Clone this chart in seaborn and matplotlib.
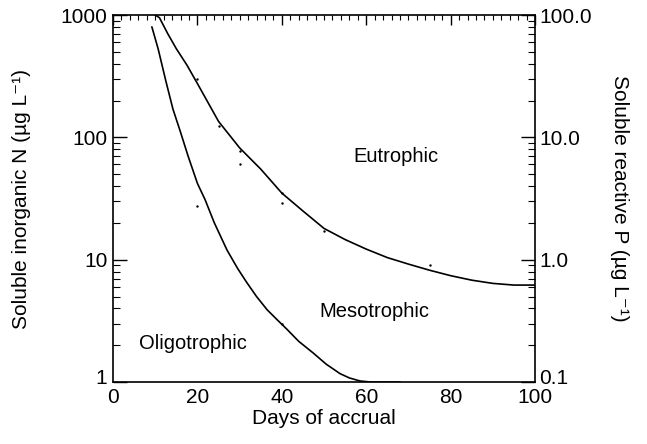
import matplotlib
matplotlib.use("Agg")
import matplotlib.pyplot as plt
import matplotlib.transforms as mtransforms
import seaborn as sns
import pandas as pd
import numpy as np
from matplotlib.ticker import LogLocator, NullFormatter, MultipleLocator

sns.set_theme(style="white")
plt.rcParams['font.family'] = ['Liberation Sans', 'DejaVu Sans']

# Eutrophic / mesotrophic boundary
eu_days = [10, 11, 13, 15, 17.5, 20, 25, 30, 35, 40, 45, 50, 55, 60, 65, 70, 75, 80, 85, 90, 95, 100]
eu_n = [1000, 950, 700, 530, 390, 275, 135, 82, 55, 35, 25, 18, 14.6, 12.2, 10.4, 9.2, 8.2, 7.4, 6.8, 6.4, 6.2, 6.2]

# Mesotrophic / oligotrophic boundary
oli_days = [9.2, 10.7, 12.5, 14.2, 16, 17.8, 20, 21.8, 24, 27, 29.5, 31.7, 34, 36.5, 39, 41.2, 44, 47.4, 50.5, 53.8, 56, 58.5, 61, 64, 68]
oli_n = [800, 527, 290, 170, 110, 70, 42, 31, 20, 12, 8.5, 6.5, 5.0, 3.9, 3.2, 2.7, 2.15, 1.73, 1.4, 1.17, 1.08, 1.02, 1.0, 1.0, 1.0]

# scattered observation dots
pt_days = [20, 20, 25, 30, 30, 40, 40, 40, 50, 75]
pt_n = [298, 27.6, 123, 77, 61, 35, 29, 3.0, 17, 9.1]

region_labels = ["Eutrophic", "Mesotrophic", "Oligotrophic"]
left_ticks = [1, 10, 100, 1000]
left_ticklabels = ["1", "10", "100", "1000"]
right_ticks = [0.1, 1, 10, 100]
right_ticklabels = ["0.1", "1.0", "10.0", "100.0"]
x_ticks = [0, 20, 40, 60, 80, 100]

FS = 15

fig = plt.figure(figsize=(6.47, 4.44), dpi=100)
ax = fig.add_axes([0.1747, 0.1396, 0.6523, 0.8266])

df_eu = pd.DataFrame({"days": eu_days, "n": eu_n})
df_ol = pd.DataFrame({"days": oli_days, "n": oli_n})
df_pt = pd.DataFrame({"days": pt_days, "n": pt_n})

sns.lineplot(data=df_eu, x="days", y="n", ax=ax, color="black", linewidth=1.2, sort=True)
sns.lineplot(data=df_ol, x="days", y="n", ax=ax, color="black", linewidth=1.2, sort=True)
sns.scatterplot(data=df_pt, x="days", y="n", ax=ax, color="black", s=3, linewidth=0)

ax.set_yscale("log")
ax.set_xlim(0, 100)
ax.set_ylim(1, 1000)
ax.set_xticks(x_ticks)
ax.set_xticklabels([str(t) for t in x_ticks])
ax.xaxis.set_minor_locator(MultipleLocator(2))
ax.set_yticks(left_ticks)
ax.set_yticklabels(left_ticklabels)
ax.yaxis.set_minor_locator(LogLocator(base=10, subs=np.arange(2, 10)))
ax.yaxis.set_minor_formatter(NullFormatter())

ax.tick_params(axis="x", which="major", direction="in", length=7, width=1, labelsize=FS, pad=4.5, color="black", labelcolor="black")
ax.tick_params(axis="x", which="minor", direction="in", length=3.5, width=0.8, color="black")
ax.tick_params(axis="y", which="major", direction="in", length=10, width=1, labelsize=FS, pad=4, color="black", labelcolor="black")
ax.tick_params(axis="y", which="minor", direction="in", length=5, width=0.8, color="black")
ax.tick_params(axis="x", which="both", top=True)
ax.tick_params(axis="y", which="both", left=True, right=False)

for s in ax.spines.values():
    s.set_color("black")
    s.set_linewidth(1.2)

ax.set_xlabel("Days of accrual", fontsize=FS, color="black", labelpad=1)
ax.set_ylabel("Soluble inorganic N (\u00b5g L\u207b\u00b9)", fontsize=FS, color="black", labelpad=21)

ax2 = ax.twinx()
ax2.set_yscale("log")
ax2.set_ylim(0.1, 100)
ax2.set_yticks(right_ticks)
ax2.set_yticklabels(right_ticklabels)
ax2.yaxis.set_minor_locator(LogLocator(base=10, subs=np.arange(2, 10)))
ax2.yaxis.set_minor_formatter(NullFormatter())
ax2.tick_params(axis="y", which="major", direction="in", length=10, width=1, labelsize=FS, pad=3, color="black", labelcolor="black")
ax2.tick_params(axis="y", which="minor", direction="in", length=5, width=0.8, color="black")
ax2.set_ylabel("Soluble reactive P (\u00b5g L\u207b\u00b9)", fontsize=FS, color="black", rotation=-90, labelpad=27)
for s in ax2.spines.values():
    s.set_visible(False)

# nudge corner labels up slightly, as in the reference
shift_up = mtransforms.ScaledTranslation(0, 4 / 72, fig.dpi_scale_trans)
for lbl in (ax2.get_yticklabels()[0], ax.get_yticklabels()[0]):
    lbl.set_transform(lbl.get_transform() + shift_up)

ax.text(67, 70, region_labels[0], fontsize=14.5, ha="center", va="center", color="black")
ax.text(62, 3.8, region_labels[1], fontsize=14.5, ha="center", va="center", color="black")
ax.text(19, 2.05, region_labels[2], fontsize=14.5, ha="center", va="center", color="black")

fig.savefig("out.png", dpi=100, facecolor="white")
